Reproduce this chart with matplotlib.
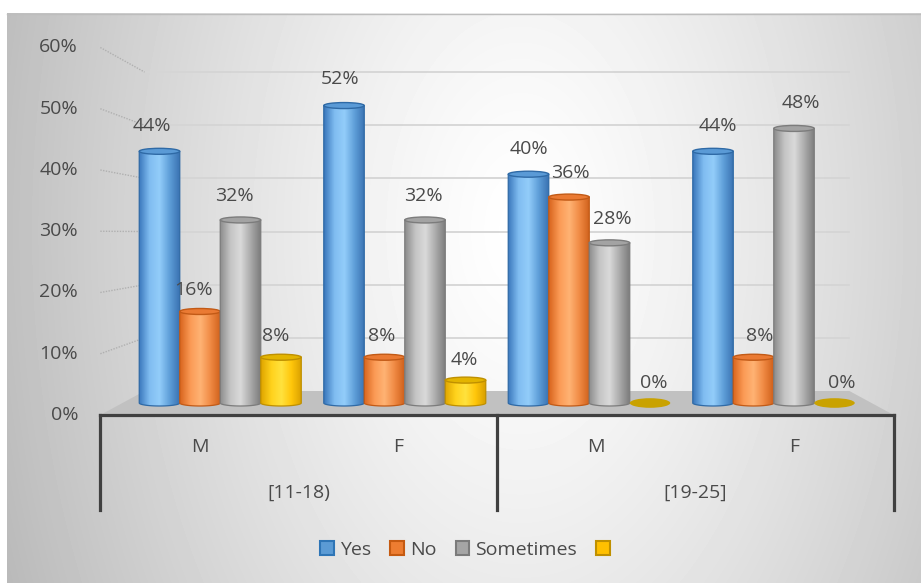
import numpy as np
import matplotlib.pyplot as plt
from matplotlib.colors import LinearSegmentedColormap
from matplotlib.patches import Ellipse, PathPatch, Polygon, Patch
from matplotlib.path import Path
from matplotlib.lines import Line2D

plt.rcParams["font.family"] = ["Open Sans", "DejaVu Sans"]

# Survey answers (%) by sex within each age band
categories = ["M", "F", "M", "F"]
age_groups = ["[11-18)", "[19-25]"]
series_names = ["Yes", "No", "Sometimes", ""]
yes = [44, 52, 40, 44]
no = [16, 8, 36, 8]
sometimes = [32, 32, 28, 48]
unlabelled = [8, 4, 0, 0]
y_ticks = [0, 10, 20, 30, 40, 50, 60]

series_values = [yes, no, sometimes, unlabelled]

# cylinder shading: gradient stops across the body, cap colour, outline
styles = [
    dict(body=["#3b78bd", "#7fbcf0", "#93cdfa", "#5f9fd9", "#3a72b2"],
         top="#5a9ad6", line="#2f6aa6", legend="#5b9bd5", ledge="#2e75b6"),
    dict(body=["#d9661f", "#fb9a55", "#ffb374", "#f08a44", "#cf601b"],
         top="#ea7a33", line="#c25a16", legend="#ed7d31", ledge="#c55a11"),
    dict(body=["#8d8d8d", "#c4c4c4", "#dadada", "#ababab", "#7c7c7c"],
         top="#a3a3a3", line="#7c7c7c", legend="#a5a5a5", ledge="#7b7b7b"),
    dict(body=["#e0a600", "#ffd21c", "#ffe23e", "#ffc60a", "#d9a000"],
         top="#e3b400", line="#bf9000", legend="#ffc000", ledge="#bf9000"),
]
zero_disc = "#c9a200"
text_col = "#4a4a4a"
FS = 14

W_PX, H_PX = 921, 583
X0_PX, Y0_PX = 497, 403      # centre of the floor at bar depth
CAT_PX = 184.5               # pixels per category at bar depth
PCT_PX = 5.72                # pixels per percent at bar depth
BAR_W = 40.5 / CAT_PX
CAP_H = 6 / PCT_PX


def plane(u, g, d):
    """Map (category u, percent g) on a plane at depth d (-1 front, 0 bars, 1 back)
    into data coordinates of the bar plane."""
    kx = 1 - (0.075 if d < 0 else 0.045) * d
    x = 1.5 + (u - 1.5) * kx
    y = (12 * d + (PCT_PX - 0.405 * d) * g) / PCT_PX
    return x, y


fig = plt.figure(figsize=(W_PX / 100, H_PX / 100), dpi=100)

# soft grey backdrop, brightest just above the middle
bg = fig.add_axes([7 / W_PX, 0, (W_PX - 7) / W_PX, (H_PX - 13) / H_PX])
gx, gy = np.meshgrid(np.arange(7, W_PX), np.arange(13, H_PX))
r = np.hypot((gx - 520) / 520, (gy - 230) / 850)
shade = 1 - 0.25 * np.clip(r, 0, 1.3) ** 1.3
bg.imshow(shade, cmap="gray", vmin=0, vmax=1, aspect="auto", interpolation="bilinear")
bg.axis("off")
fig.add_artist(Line2D([7 / W_PX, 1], [1 - 13.5 / H_PX] * 2, color="#bdbdbd", lw=1))

ax = fig.add_axes([0, 0, 1, 1])
ax.patch.set_alpha(0)
ax.axis("off")

# back wall gridlines and side-wall guides
for g in y_ticks[1:]:
    xb0, yb0 = plane(-0.5, g, 1)
    xb1, yb1 = plane(3.5, g, 1)
    ax.plot([xb0, xb1], [yb0, yb1], color="#d5d5d5", lw=1.3, zorder=1)
    xf, yf = plane(-0.5, g, -1)
    ax.plot([xf, xb0], [yf, yb0], color="#b0b0b0", lw=1, ls=(0, (1, 1)), zorder=1)

# floor
floor = [plane(-0.5, 0, -1), plane(3.5, 0, -1), plane(3.5, 0, 1), plane(-0.5, 0, 1)]
ax.add_patch(Polygon(floor, closed=True, facecolor="#c1c1c1", edgecolor="none", zorder=1.5))

# y tick labels on the front plane
for g in y_ticks:
    ax.annotate(f"{g}%", xy=plane(-0.5, g, -1), xytext=(-16, 0), textcoords="offset points",
                ha="right", va="center", fontsize=FS, color=text_col)


def cylinder(x, val, st, z):
    left, right = x - BAR_W / 2, x + BAR_W / 2
    t = np.linspace(0, np.pi, 40)
    arc = np.column_stack([x + BAR_W / 2 * np.cos(t), -CAP_H / 2 * np.sin(t)])
    verts = np.vstack([[right, val], arc, [left, val], [right, val]])
    body = Path(verts, closed=True)
    clip = PathPatch(body, facecolor="none", edgecolor="none")
    ax.add_patch(clip)
    cmap = LinearSegmentedColormap.from_list("cyl", st["body"])
    img = ax.imshow(np.linspace(0, 1, 64)[None, :], cmap=cmap, aspect="auto",
                    extent=(left, right, -CAP_H / 2, val), zorder=z, interpolation="bilinear")
    img.set_clip_path(clip)
    ax.add_patch(PathPatch(body, facecolor="none", edgecolor=st["line"], lw=0.9, zorder=z + 0.01))
    ax.add_patch(Ellipse((x, val), BAR_W, CAP_H, facecolor=st["top"], edgecolor=st["line"],
                         lw=1, zorder=z + 0.02))


for j, vals in enumerate(series_values):
    st = styles[j]
    xs = [i + (j - 1.5) * BAR_W for i in range(len(categories))]
    for i, (x, v) in enumerate(zip(xs, vals)):
        z = 3 + 0.1 * j
        if v > 0:
            cylinder(x, v, st, z)
        else:
            ax.add_patch(Ellipse((x, 0), BAR_W, 1.6 * CAP_H, facecolor=zero_disc,
                                 edgecolor="none", zorder=z))
        ax.annotate(f"{v}%", xy=plane(x, v, -0.3), xytext=(0, 17), textcoords="offset points",
                    ha="center", va="center", fontsize=FS, color=text_col, zorder=10)

# category axis: front edge, dividers and two label rows
axis_kw = dict(color="#404040", lw=2.3, zorder=6, solid_capstyle="projecting")
xa0, ya0 = plane(-0.5, 0, -1)
xa1, ya1 = plane(3.5, 0, -1)
ax.plot([xa0, xa1], [ya0, ya1], **axis_kw)
for u in [-0.5, 1.5, 3.5]:
    xt, yt = plane(u, 0, -1)
    xb, yb = plane(u, -15.5, -1)
    ax.plot([xt, xb], [yt, yb], **axis_kw)
for i, cat in enumerate(categories):
    ax.text(*plane(i, -5.2, -1), cat, ha="center", va="center", fontsize=FS, color=text_col)
for k, grp in enumerate(age_groups):
    ax.text(*plane(2 * k + 0.5, -12.7, -1), grp, ha="center", va="center", fontsize=FS,
            color=text_col)

ax.set_xlim(1.5 + (0 - X0_PX) / CAT_PX, 1.5 + (W_PX - X0_PX) / CAT_PX)
ax.set_ylim((Y0_PX - H_PX) / PCT_PX, Y0_PX / PCT_PX)

handles = [Patch(facecolor=s["legend"], edgecolor=s["ledge"], lw=1.5) for s in styles]
fig.legend(handles, series_names, loc="center", bbox_to_anchor=(468 / W_PX, 1 - 550 / H_PX),
           ncol=4, frameon=False, fontsize=FS, handlelength=0.7, handleheight=0.7,
           handletextpad=0.3, columnspacing=1.0, labelcolor=text_col)

fig.savefig("out.png", dpi=100)
